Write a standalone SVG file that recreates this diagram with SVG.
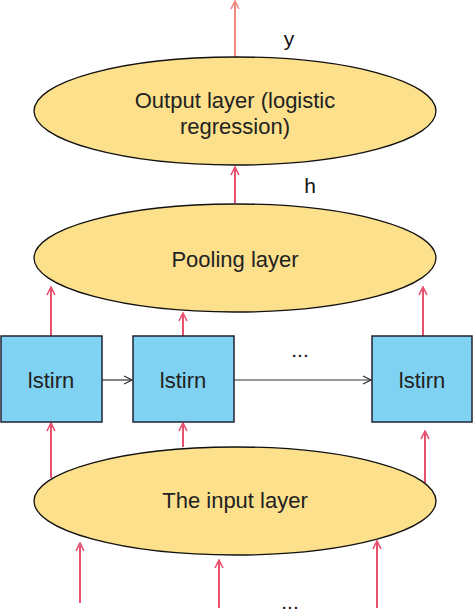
<svg xmlns="http://www.w3.org/2000/svg" width="474" height="614" viewBox="0 0 474 614">
<defs>
<marker id="ah" viewBox="0 0 10 10" refX="9" refY="5" markerWidth="10" markerHeight="10" markerUnits="userSpaceOnUse" orient="auto">
<path d="M1,1 L9,5 L1,9" fill="none" stroke="#E8506E" stroke-width="1.6"/>
</marker>
<marker id="ahl" viewBox="0 0 10 10" refX="9" refY="5" markerWidth="10" markerHeight="10" markerUnits="userSpaceOnUse" orient="auto">
<path d="M1,1 L9,5 L1,9" fill="none" stroke="#F08A80" stroke-width="1.6"/>
</marker>
<marker id="ahk" viewBox="0 0 10 10" refX="9" refY="5" markerWidth="10" markerHeight="10" markerUnits="userSpaceOnUse" orient="auto">
<path d="M1,1 L9,5 L1,9" fill="none" stroke="#333" stroke-width="1.2"/>
</marker>
</defs>
<style>
.ell{fill:#FCE08C;stroke:#111;stroke-width:1.3}
.box{fill:#80D2F2;stroke:#223;stroke-width:1.5}
.t{font-family:"Liberation Sans",Arial,sans-serif;font-size:22px;fill:#222;text-anchor:middle}
.lbl{font-family:"Liberation Sans",Arial,sans-serif;font-size:21px;fill:#111;text-anchor:middle}
.up{stroke:#E8506E;stroke-width:2;fill:none;marker-end:url(#ah)}
.upl{stroke:#F08A80;stroke-width:2;fill:none;marker-end:url(#ahl)}
.rt{stroke:#333;stroke-width:1.2;fill:none;marker-end:url(#ahk)}
</style>
<g id="connectors">
<line class="upl" x1="235" y1="57" x2="235" y2="1"/>
<line class="up" x1="235" y1="203" x2="235" y2="167"/>
<line class="up" x1="51" y1="336" x2="51" y2="287"/>
<line class="up" x1="183" y1="336" x2="183" y2="313"/>
<line class="up" x1="423" y1="336" x2="423" y2="287"/>
<line class="rt" x1="102" y1="380" x2="132" y2="380"/>
<line class="rt" x1="234" y1="380" x2="371" y2="380"/>
<line class="up" x1="51" y1="478" x2="51" y2="423"/>
<line class="up" x1="183" y1="447" x2="183" y2="423"/>
<line class="up" x1="425" y1="483" x2="425" y2="431"/>
<line class="up" x1="80" y1="603" x2="80" y2="543"/>
<line class="up" x1="219" y1="608" x2="219" y2="560"/>
<line class="up" x1="377" y1="608" x2="377" y2="541"/>
</g>
<g id="output">
<ellipse class="ell" cx="235" cy="111" rx="201" ry="54"/>
<text class="t" x="235" y="108">Output layer (logistic</text>
<text class="t" x="235" y="134">regression)</text>
</g>
<g id="label-y"><text class="lbl" x="289" y="46">y</text></g>
<g id="label-h"><text class="lbl" x="310" y="193">h</text></g>
<g id="pooling">
<ellipse class="ell" cx="235" cy="258" rx="201" ry="54"/>
<text class="t" x="235" y="267">Pooling layer</text>
</g>
<g id="lstirn1">
<rect class="box" x="1" y="336" width="101" height="86"/>
<text class="t" x="51" y="388">lstirn</text>
</g>
<g id="lstirn2">
<rect class="box" x="133" y="336" width="101" height="86"/>
<text class="t" x="183" y="388">lstirn</text>
</g>
<g id="lstirn3">
<rect class="box" x="372" y="336" width="100" height="86"/>
<text class="t" x="422" y="388">lstirn</text>
</g>
<g id="dots1"><text class="lbl" x="300" y="357">...</text></g>
<g id="input">
<ellipse class="ell" cx="235" cy="501" rx="201" ry="54"/>
<text class="t" x="235" y="508">The input layer</text>
</g>
<g id="dots2"><text class="lbl" x="290" y="609">...</text></g>
</svg>
